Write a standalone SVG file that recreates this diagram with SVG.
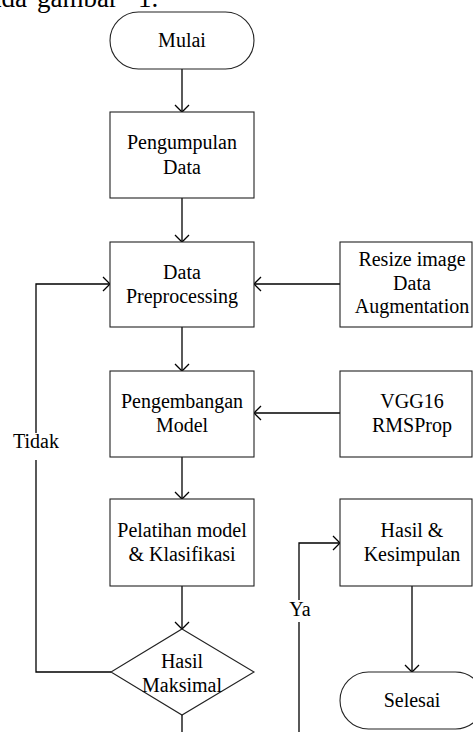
<svg xmlns="http://www.w3.org/2000/svg" width="473" height="732" viewBox="0 0 473 732">
<style>
.n{fill:#fff;stroke:#222;stroke-width:1.1}
.t{font-family:"Liberation Serif","Times New Roman",serif;font-size:20px;fill:#000;text-anchor:middle}
.c{fill:none;stroke:#000;stroke-width:1.3}
</style>
<defs>
<marker id="a" viewBox="-8 -8 10 16" refX="0" refY="0" markerWidth="10" markerHeight="16" markerUnits="userSpaceOnUse" orient="auto">
<path d="M-7,-7 L0,0 L-7,7" fill="none" stroke="#000" stroke-width="1.3"/>
</marker>
</defs>
<rect width="473" height="732" fill="#fff"/>
<text font-family="'Liberation Serif','Times New Roman',serif" font-size="27" y="6.5"><tspan x="-24">pada</tspan><tspan x="37">gambar</tspan><tspan x="138">1.</tspan></text>
<g id="connectors">
<path class="c" d="M182,69 V112" marker-end="url(#a)"/>
<path class="c" d="M182,198 V242" marker-end="url(#a)"/>
<path class="c" d="M182,327 V371" marker-end="url(#a)"/>
<path class="c" d="M182,457 V499" marker-end="url(#a)"/>
<path class="c" d="M182,586 V629" marker-end="url(#a)"/>
<path class="c" d="M340,284 H254" marker-end="url(#a)"/>
<path class="c" d="M340,413 H254" marker-end="url(#a)"/>
<path class="c" d="M111,672 H36 V284 H110" marker-end="url(#a)"/>
<path class="c" d="M182,715 V732"/>
<path class="c" d="M299,732 V543 H340" marker-end="url(#a)"/>
<path class="c" d="M412,586 V672" marker-end="url(#a)"/>
<rect x="13" y="433" width="46" height="27" fill="#fff"/>
<text class="t" x="36" y="448">Tidak</text>
<rect x="287" y="600" width="26" height="22" fill="#fff"/>
<text class="t" x="300" y="616">Ya</text>
</g>
<g id="mulai">
<rect class="n" x="110" y="12" width="144" height="57" rx="28.5"/>
<text class="t" x="182" y="47">Mulai</text>
</g>
<g id="pengumpulan">
<rect class="n" x="110" y="112" width="144" height="86"/>
<text class="t" x="182" y="149">Pengumpulan</text>
<text class="t" x="182" y="174">Data</text>
</g>
<g id="preprocessing">
<rect class="n" x="110" y="242" width="144" height="85"/>
<text class="t" x="182" y="279">Data</text>
<text class="t" x="182" y="303">Preprocessing</text>
</g>
<g id="resize">
<rect class="n" x="340" y="242" width="132" height="85"/>
<text class="t" x="412" y="266">Resize image</text>
<text class="t" x="412" y="290">Data</text>
<text class="t" x="412" y="313">Augmentation</text>
</g>
<g id="pengembangan">
<rect class="n" x="110" y="371" width="144" height="86"/>
<text class="t" x="182" y="408">Pengembangan</text>
<text class="t" x="182" y="432">Model</text>
</g>
<g id="vgg">
<rect class="n" x="340" y="371" width="132" height="86"/>
<text class="t" x="412" y="408">VGG16</text>
<text class="t" x="412" y="432">RMSProp</text>
</g>
<g id="pelatihan">
<rect class="n" x="110" y="499" width="144" height="87"/>
<text class="t" x="182" y="537">Pelatihan model</text>
<text class="t" x="182" y="561">&amp; Klasifikasi</text>
</g>
<g id="hasil">
<rect class="n" x="340" y="499" width="132" height="87"/>
<text class="t" x="412" y="537">Hasil &amp;</text>
<text class="t" x="412" y="561">Kesimpulan</text>
</g>
<g id="keputusan">
<path class="n" d="M182,629 L254,672 L182,715 L111,672 Z"/>
<text class="t" x="182" y="668">Hasil</text>
<text class="t" x="182" y="692">Maksimal</text>
</g>
<g id="selesai">
<rect class="n" x="340" y="672" width="144" height="57" rx="28.5"/>
<text class="t" x="412" y="707">Selesai</text>
</g>
</svg>
